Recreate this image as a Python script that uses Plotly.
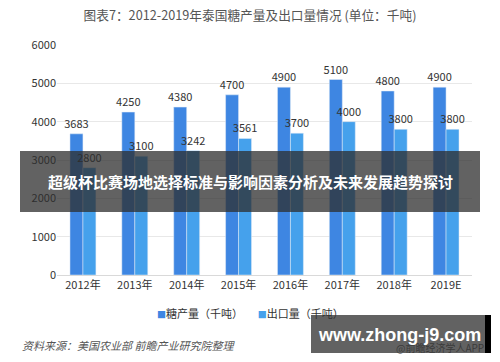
import plotly.graph_objects as go

years = ["2012年", "2013年", "2014年", "2015年", "2016年", "2017年", "2018年", "2019E"]
production = [3683, 4250, 4380, 4700, 4900, 5100, 4800, 4900]
exports = [2800, 3100, 3242, 3561, 3700, 4000, 3800, 3800]
series_names = ["糖产量（千吨）", "出口量（千吨）"]
colors = ["#3E86E2", "#45A1EC"]

W, H = 500, 362
L, R, T, B = 57, 472, 45, 275

def px(x):
    return (x - L) / (R - L)

def py(y):
    return (B - y) / (B - T)

fig = go.Figure()
for vals, name, col in zip([production, exports], series_names, colors):
    fig.add_trace(go.Bar(x=years, y=vals, name=name, marker_color=col,
                         text=[str(v) for v in vals], textposition="outside",
                         textfont=dict(size=11, color="#333"), cliponaxis=False,
                         showlegend=False, hoverinfo="skip"))

fig.update_layout(
    width=W, height=H,
    margin=dict(l=L, r=W - R, t=T, b=H - B, autoexpand=False),
    paper_bgcolor="white", plot_bgcolor="white",
    font=dict(family="Noto Sans CJK SC, Noto Sans, sans-serif", size=11, color="#333"),
    barmode="group", bargap=0.5, bargroupgap=0,
    title=dict(text="图表7：2012-2019年泰国糖产量及出口量情况 (单位：千吨)", x=0.5, xanchor="center",
               y=1 - 16 / H, yanchor="middle", font=dict(size=12.7, color="#555")),
    uniformtext=dict(mode="show", minsize=11),
)
fig.update_yaxes(range=[0, 6000], dtick=1000, showgrid=True, gridcolor="#e8e8e8", zeroline=False,
                 showline=False, ticks="", tickfont=dict(size=11, color="#333"), automargin=False)
fig.update_xaxes(showline=True, linecolor="#d9d9d9", ticks="", tickfont=dict(size=11, color="#333"),
                 automargin=False)

# legend drawn as text
legend_txt = ("<span style='color:%s;font-size:9px'>■</span>%s"
              "&#160;&#160;&#160;&#160;&#160;&#160;"
              "<span style='color:%s;font-size:9px'>■</span>%s") % (colors[0], series_names[0],
                                                                  colors[1], series_names[1])
fig.add_annotation(text=legend_txt, xref="paper", yref="paper", x=px(250), y=py(313),
                   xanchor="center", yanchor="middle", showarrow=False,
                   font=dict(size=11, color="#333"))

# source note
fig.add_annotation(text="<i>资料来源：美国农业部 前瞻产业研究院整理</i>", xref="paper", yref="paper",
                   x=px(20), y=py(345), xanchor="left", yanchor="middle", showarrow=False,
                   font=dict(size=11, color="#555"))

# banner overlay
fig.add_shape(type="rect", xref="paper", yref="paper", x0=px(20), x1=px(480), y0=py(212), y1=py(151),
              fillcolor="rgba(45,45,45,0.75)", line=dict(width=0), layer="above")
fig.add_annotation(text="<b>超级杯比赛场地选择标准与影响因素分析及未来发展趋势探讨</b>", xref="paper", yref="paper",
                   x=px(250), y=py(181.5), xanchor="center", yanchor="middle", showarrow=False,
                   font=dict(size=15, color="white", family="Noto Sans CJK SC"))

# watermark box bottom right
fig.add_annotation(text="@前瞻经济学人APP", xref="paper", yref="paper", x=px(486), y=py(347),
                   xanchor="right", yanchor="middle", showarrow=False,
                   font=dict(size=10, color="rgba(40,40,40,0.7)"))
fig.add_shape(type="rect", xref="paper", yref="paper", x0=px(311), x1=px(485), y0=py(353), y1=py(315),
              fillcolor="rgba(70,70,70,0.85)", line=dict(width=0), layer="above")
fig.add_shape(type="rect", xref="paper", yref="paper", x0=px(485), x1=px(491), y0=py(353), y1=py(315),
              fillcolor="black", line=dict(width=0), layer="above")
fig.add_annotation(text="<b>www.zhong-j9.com</b>", xref="paper", yref="paper", x=px(399), y=py(335),
                   xanchor="center", yanchor="middle", showarrow=False,
                   font=dict(size=18, color="white", family="Liberation Sans, Arial, sans-serif"))

fig.write_html("out.html", config={"displayModeBar": False},
               post_script="document.body.style.margin='0';document.body.style.overflow='hidden';")
